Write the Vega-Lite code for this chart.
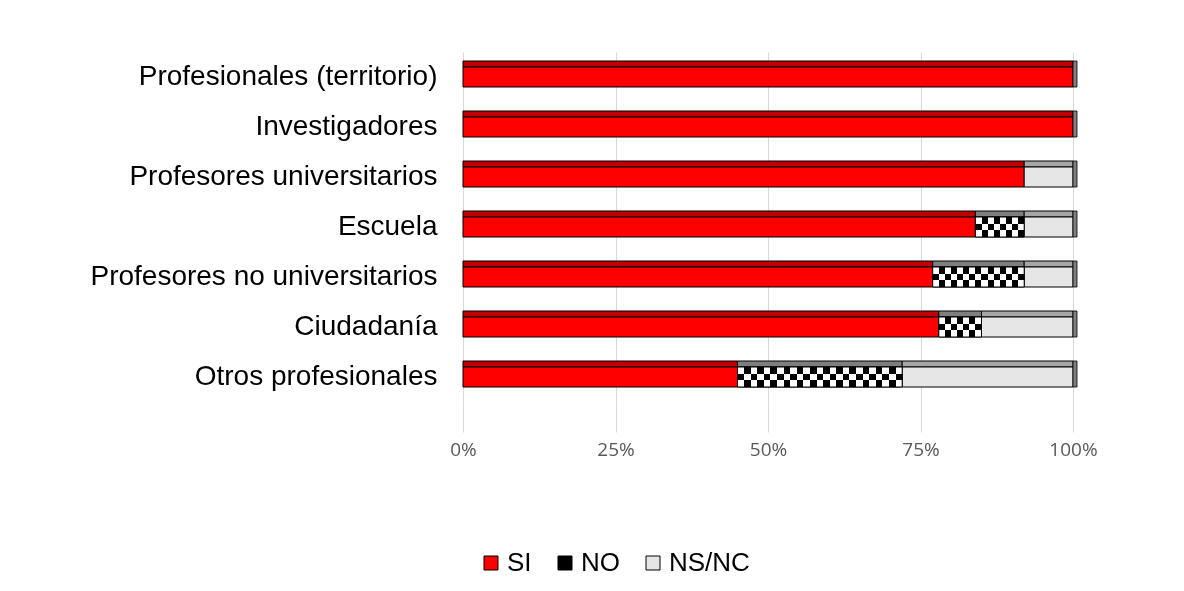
{
  "$schema": "https://vega.github.io/schema/vega-lite/v6.json",
  "width": 610,
  "height": 350,
  "autosize": {"type": "none"},
  "padding": {"left": 463, "top": 52, "right": 111, "bottom": 189},
  "background": "white",
  "config": {"view": {"stroke": null}, "font": "Liberation Sans"},
  "data": {
    "values": [
      {"cat": "Profesionales (territorio)", "resp": "SI", "ord": 1, "pct": 100},
      {"cat": "Investigadores", "resp": "SI", "ord": 1, "pct": 100},
      {"cat": "Profesores universitarios", "resp": "SI", "ord": 1, "pct": 92},
      {"cat": "Profesores universitarios", "resp": "NS/NC", "ord": 3, "pct": 8},
      {"cat": "Escuela", "resp": "SI", "ord": 1, "pct": 84},
      {"cat": "Escuela", "resp": "NO", "ord": 2, "pct": 8},
      {"cat": "Escuela", "resp": "NS/NC", "ord": 3, "pct": 8},
      {"cat": "Profesores no universitarios", "resp": "SI", "ord": 1, "pct": 77},
      {"cat": "Profesores no universitarios", "resp": "NO", "ord": 2, "pct": 15},
      {"cat": "Profesores no universitarios", "resp": "NS/NC", "ord": 3, "pct": 8},
      {"cat": "Ciudadanía", "resp": "SI", "ord": 1, "pct": 78},
      {"cat": "Ciudadanía", "resp": "NO", "ord": 2, "pct": 7},
      {"cat": "Ciudadanía", "resp": "NS/NC", "ord": 3, "pct": 15},
      {"cat": "Otros profesionales", "resp": "SI", "ord": 1, "pct": 45},
      {"cat": "Otros profesionales", "resp": "NO", "ord": 2, "pct": 27},
      {"cat": "Otros profesionales", "resp": "NS/NC", "ord": 3, "pct": 28}
    ]
  },
  "transform": [
    {"stack": "pct", "groupby": ["cat"], "sort": [{"field": "ord", "order": "ascending"}], "as": ["x0", "x1"]}
  ],
  "encoding": {
    "y": {
      "field": "cat",
      "type": "nominal",
      "sort": ["Profesionales (territorio)", "Investigadores", "Profesores universitarios", "Escuela", "Profesores no universitarios", "Ciudadanía", "Otros profesionales"],
      "scale": {"paddingInner": 0.5, "paddingOuter": 0.25},
      "axis": {
        "title": null,
        "domain": false,
        "ticks": false,
        "grid": false,
        "labelFont": "Liberation Sans",
        "labelFontSize": 28,
        "labelColor": "#000000",
        "labelPadding": 26,
        "labelLimit": 600
      }
    }
  },
  "layer": [
    {
      "mark": {"type": "bar", "height": 6, "yOffset": -13, "stroke": "#000000", "strokeWidth": 1},
      "encoding": {
        "x": {
          "field": "x0",
          "type": "quantitative",
          "scale": {"domain": [0, 100], "nice": false},
          "axis": {
            "title": null,
            "values": [0, 25, 50, 75, 100],
            "labelExpr": "datum.value + '%'",
            "domain": false,
            "grid": true,
            "gridColor": "#D9D9D9",
            "gridWidth": 1,
            "ticks": true,
            "tickColor": "#D9D9D9",
            "tickSize": 30,
            "labelFont": "Open Sans",
            "labelFontSize": 19,
            "labelColor": "#595959",
            "labelPadding": 8,
            "labelFlush": false
          }
        },
        "x2": {"field": "x1"},
        "fill": {
          "condition": [
            {"test": "datum.resp === 'SI'", "value": "#C00000"},
            {"test": "datum.resp === 'NS/NC'", "value": "#A6A6A6"}
          ],
          "value": "#7F7F7F"
        }
      }
    },
    {
      "mark": {"type": "bar", "height": 20, "stroke": "#000000", "strokeWidth": 1},
      "encoding": {
        "x": {"field": "x0", "type": "quantitative"},
        "x2": {"field": "x1"},
        "color": {
          "field": "resp",
          "type": "nominal",
          "scale": {"domain": ["SI", "NO", "NS/NC"], "range": ["#FF0000", "#000000", "#E7E6E6"]},
          "legend": {
            "title": null,
            "orient": "none",
            "legendX": 15,
            "legendY": 498,
            "direction": "horizontal",
            "symbolType": "square",
            "symbolSize": 196,
            "symbolStrokeColor": "#000000",
            "symbolStrokeWidth": 1,
            "symbolOpacity": 1,
            "labelFont": "Liberation Sans",
            "labelFontSize": 26,
            "labelColor": "#000000",
            "labelOffset": 3,
            "columnPadding": 20
          }
        }
      }
    },
    {
      "transform": [{"filter": "datum.resp === 'NO' && datum.cat === 'Escuela'"}],
      "mark": {
        "type": "bar",
        "height": 20,
        "fill": {
          "gradient": "linear", "x1": 0, "y1": 0, "x2": 1, "y2": 0,
          "stops": [
            {"offset": 0, "color": "#000000"}, {"offset": 0.125, "color": "#000000"},
            {"offset": 0.125, "color": "#ffffff"}, {"offset": 0.25, "color": "#ffffff"},
            {"offset": 0.25, "color": "#000000"}, {"offset": 0.375, "color": "#000000"},
            {"offset": 0.375, "color": "#ffffff"}, {"offset": 0.5, "color": "#ffffff"},
            {"offset": 0.5, "color": "#000000"}, {"offset": 0.625, "color": "#000000"},
            {"offset": 0.625, "color": "#ffffff"}, {"offset": 0.75, "color": "#ffffff"},
            {"offset": 0.75, "color": "#000000"}, {"offset": 0.875, "color": "#000000"},
            {"offset": 0.875, "color": "#ffffff"}, {"offset": 1, "color": "#ffffff"}
          ]
        }
      },
      "encoding": {"x": {"field": "x0", "type": "quantitative"}, "x2": {"field": "x1"}}
    },
    {
      "transform": [{"filter": "datum.resp === 'NO' && datum.cat === 'Ciudadanía'"}],
      "mark": {
        "type": "bar",
        "height": 20,
        "fill": {
          "gradient": "linear", "x1": 0, "y1": 0, "x2": 1, "y2": 0,
          "stops": [
            {"offset": 0, "color": "#000000"}, {"offset": 0.1429, "color": "#000000"},
            {"offset": 0.1429, "color": "#ffffff"}, {"offset": 0.2857, "color": "#ffffff"},
            {"offset": 0.2857, "color": "#000000"}, {"offset": 0.4286, "color": "#000000"},
            {"offset": 0.4286, "color": "#ffffff"}, {"offset": 0.5714, "color": "#ffffff"},
            {"offset": 0.5714, "color": "#000000"}, {"offset": 0.7143, "color": "#000000"},
            {"offset": 0.7143, "color": "#ffffff"}, {"offset": 0.8571, "color": "#ffffff"},
            {"offset": 0.8571, "color": "#000000"}, {"offset": 1, "color": "#000000"}
          ]
        }
      },
      "encoding": {"x": {"field": "x0", "type": "quantitative"}, "x2": {"field": "x1"}}
    },
    {
      "transform": [{"filter": "datum.resp === 'NO' && datum.cat === 'Profesores no universitarios'"}],
      "mark": {
        "type": "bar",
        "height": 20,
        "fill": {
          "gradient": "linear", "x1": 0, "y1": 0, "x2": 1, "y2": 0,
          "stops": [
            {"offset": 0, "color": "#000000"}, {"offset": 0.0667, "color": "#000000"},
            {"offset": 0.0667, "color": "#ffffff"}, {"offset": 0.1333, "color": "#ffffff"},
            {"offset": 0.1333, "color": "#000000"}, {"offset": 0.2, "color": "#000000"},
            {"offset": 0.2, "color": "#ffffff"}, {"offset": 0.2667, "color": "#ffffff"},
            {"offset": 0.2667, "color": "#000000"}, {"offset": 0.3333, "color": "#000000"},
            {"offset": 0.3333, "color": "#ffffff"}, {"offset": 0.4, "color": "#ffffff"},
            {"offset": 0.4, "color": "#000000"}, {"offset": 0.4667, "color": "#000000"},
            {"offset": 0.4667, "color": "#ffffff"}, {"offset": 0.5333, "color": "#ffffff"},
            {"offset": 0.5333, "color": "#000000"}, {"offset": 0.6, "color": "#000000"},
            {"offset": 0.6, "color": "#ffffff"}, {"offset": 0.6667, "color": "#ffffff"},
            {"offset": 0.6667, "color": "#000000"}, {"offset": 0.7333, "color": "#000000"},
            {"offset": 0.7333, "color": "#ffffff"}, {"offset": 0.8, "color": "#ffffff"},
            {"offset": 0.8, "color": "#000000"}, {"offset": 0.8667, "color": "#000000"},
            {"offset": 0.8667, "color": "#ffffff"}, {"offset": 0.9333, "color": "#ffffff"},
            {"offset": 0.9333, "color": "#000000"}, {"offset": 1, "color": "#000000"}
          ]
        }
      },
      "encoding": {"x": {"field": "x0", "type": "quantitative"}, "x2": {"field": "x1"}}
    },
    {
      "transform": [{"filter": "datum.resp === 'NO' && datum.cat === 'Otros profesionales'"}],
      "mark": {
        "type": "bar",
        "height": 20,
        "fill": {
          "gradient": "linear", "x1": 0, "y1": 0, "x2": 1, "y2": 0,
          "stops": [
            {"offset": 0, "color": "#000000"}, {"offset": 0.04, "color": "#000000"},
            {"offset": 0.04, "color": "#ffffff"}, {"offset": 0.08, "color": "#ffffff"},
            {"offset": 0.08, "color": "#000000"}, {"offset": 0.12, "color": "#000000"},
            {"offset": 0.12, "color": "#ffffff"}, {"offset": 0.16, "color": "#ffffff"},
            {"offset": 0.16, "color": "#000000"}, {"offset": 0.2, "color": "#000000"},
            {"offset": 0.2, "color": "#ffffff"}, {"offset": 0.24, "color": "#ffffff"},
            {"offset": 0.24, "color": "#000000"}, {"offset": 0.28, "color": "#000000"},
            {"offset": 0.28, "color": "#ffffff"}, {"offset": 0.32, "color": "#ffffff"},
            {"offset": 0.32, "color": "#000000"}, {"offset": 0.36, "color": "#000000"},
            {"offset": 0.36, "color": "#ffffff"}, {"offset": 0.4, "color": "#ffffff"},
            {"offset": 0.4, "color": "#000000"}, {"offset": 0.44, "color": "#000000"},
            {"offset": 0.44, "color": "#ffffff"}, {"offset": 0.48, "color": "#ffffff"},
            {"offset": 0.48, "color": "#000000"}, {"offset": 0.52, "color": "#000000"},
            {"offset": 0.52, "color": "#ffffff"}, {"offset": 0.56, "color": "#ffffff"},
            {"offset": 0.56, "color": "#000000"}, {"offset": 0.6, "color": "#000000"},
            {"offset": 0.6, "color": "#ffffff"}, {"offset": 0.64, "color": "#ffffff"},
            {"offset": 0.64, "color": "#000000"}, {"offset": 0.68, "color": "#000000"},
            {"offset": 0.68, "color": "#ffffff"}, {"offset": 0.72, "color": "#ffffff"},
            {"offset": 0.72, "color": "#000000"}, {"offset": 0.76, "color": "#000000"},
            {"offset": 0.76, "color": "#ffffff"}, {"offset": 0.8, "color": "#ffffff"},
            {"offset": 0.8, "color": "#000000"}, {"offset": 0.84, "color": "#000000"},
            {"offset": 0.84, "color": "#ffffff"}, {"offset": 0.88, "color": "#ffffff"},
            {"offset": 0.88, "color": "#000000"}, {"offset": 0.92, "color": "#000000"},
            {"offset": 0.92, "color": "#ffffff"}, {"offset": 0.96, "color": "#ffffff"},
            {"offset": 0.96, "color": "#000000"}, {"offset": 1, "color": "#000000"}
          ]
        }
      },
      "encoding": {"x": {"field": "x0", "type": "quantitative"}, "x2": {"field": "x1"}}
    },
    {
      "transform": [{"filter": "datum.resp === 'NO'"}],
      "mark": {
        "type": "bar",
        "height": 20,
        "blend": "difference",
        "fill": {
          "gradient": "linear", "x1": 0, "y1": 0, "x2": 0, "y2": 1,
          "stops": [
            {"offset": 0, "color": "#ffffff"}, {"offset": 0.3333, "color": "#ffffff"},
            {"offset": 0.3333, "color": "rgba(255,255,255,0)"}, {"offset": 0.6667, "color": "rgba(255,255,255,0)"},
            {"offset": 0.6667, "color": "#ffffff"}, {"offset": 1, "color": "#ffffff"}
          ]
        }
      },
      "encoding": {"x": {"field": "x0", "type": "quantitative"}, "x2": {"field": "x1"}}
    },
    {
      "transform": [{"filter": "datum.resp === 'NO'"}],
      "mark": {"type": "bar", "height": 20, "fill": "transparent", "stroke": "#000000", "strokeWidth": 1},
      "encoding": {"x": {"field": "x0", "type": "quantitative"}, "x2": {"field": "x1"}}
    },
    {
      "transform": [{"filter": "datum.x1 === 100"}],
      "mark": {"type": "tick", "thickness": 4, "size": 26, "xOffset": 2, "yOffset": -3, "color": "#7F7F7F", "stroke": "#000000", "strokeWidth": 0.8, "opacity": 1},
      "encoding": {"x": {"field": "x1", "type": "quantitative"}}
    }
  ]
}
